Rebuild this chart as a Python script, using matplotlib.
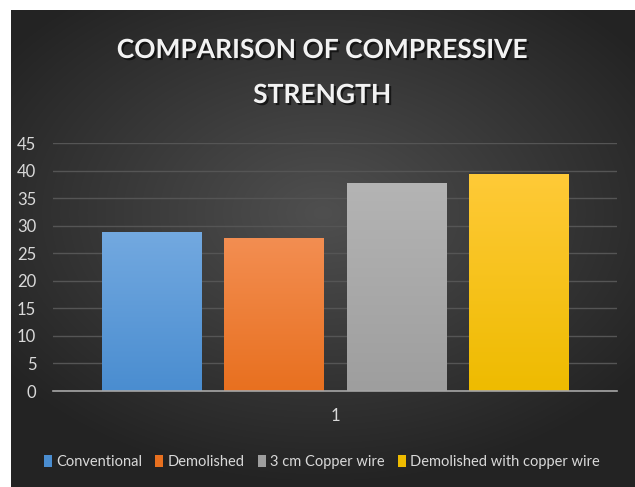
import numpy as np
import matplotlib.pyplot as plt
from matplotlib import patheffects as pe

# compressive strength per mix (single test group "1")
series = ['Conventional', 'Demolished', '3 cm Copper wire', 'Demolished with copper wire']
strength = [28.9, 27.8, 37.8, 39.4]
category = ['1']
y_ticks = [0, 5, 10, 15, 20, 25, 30, 35, 40, 45]

top_colors = ['#73a9e0', '#f38e52', '#b4b4b4', '#ffca38']
bottom_colors = ['#4a8dd0', '#e8701f', '#9e9e9e', '#eebb00']

plt.rcParams['font.family'] = ['Lato', 'DejaVu Sans']

W, H = 635, 487
fig = plt.figure(figsize=(W / 100, H / 100), dpi=100, facecolor='white')

# dark radial background panel
bg = fig.add_axes([11 / W, 0, 1 - 11 / W, 1 - 10 / H])
bg.set_axis_off()
yy, xx = np.mgrid[-1:1:300j, -1:1:400j]
r = np.sqrt((xx * 0.9) ** 2 + ((yy + 0.15) * 1.0) ** 2)
shade = np.clip(0.31 - 0.15 * r, 0.14, 0.31)
bg.imshow(np.dstack([shade] * 3), aspect='auto', extent=[0, 1, 0, 1], interpolation='bilinear')
bg.set_xlim(0, 1)
bg.set_ylim(0, 1)

ax = fig.add_axes([53 / W, 1 - 391 / H, (617 - 53) / W, (391 - 143) / H])
ax.set_facecolor('none')

step = 1.0
width = 0.81
offsets = (np.arange(len(series)) - (len(series) - 1) / 2) * step
for off, val, name, c_top, c_bot in zip(offsets, strength, series, top_colors, bottom_colors):
    bar = ax.bar(off, val, width=width, color=c_bot, label=name, zorder=3)[0]
    grad = np.linspace(0, 1, 256).reshape(-1, 1)
    t = np.array(plt.matplotlib.colors.to_rgb(c_top))
    b = np.array(plt.matplotlib.colors.to_rgb(c_bot))
    img = t + (b - t) * grad[:, :, None]
    im = ax.imshow(img, extent=[off - width / 2, off + width / 2, 0, val], aspect='auto',
                   origin='upper', zorder=3.5)
    im.set_clip_path(bar)

ax.set_xlim(-2.306, 2.306)
ax.set_ylim(0, 45)
ax.set_yticks(y_ticks)
ax.set_xticks([0])
ax.set_xticklabels(category)
ax.grid(axis='y', color='#555555', linewidth=1, zorder=0)
for s in ['top', 'right', 'left']:
    ax.spines[s].set_visible(False)
ax.spines['bottom'].set_color('#a6a6a6')
ax.spines['bottom'].set_linewidth(1.2)
ax.spines['bottom'].set_zorder(4)
ax.tick_params(axis='both', length=0, colors='#d9d9d9', labelsize=12)
ax.tick_params(axis='y', pad=12)
ax.tick_params(axis='x', pad=12)

shadow = [pe.withSimplePatchShadow(offset=(1.5, -1.5), shadow_rgbFace='black', alpha=0.6)]
fig.text(322 / W, 1 - 50 / H, 'COMPARISON OF COMPRESSIVE', ha='center', va='center',
         color='#f2f2f2', fontsize=19, fontweight='bold', path_effects=shadow)
fig.text(322 / W, 1 - 95 / H, 'STRENGTH', ha='center', va='center',
         color='#f2f2f2', fontsize=19, fontweight='bold', path_effects=shadow)

fig.legend(loc='center', bbox_to_anchor=(322 / W, 1 - 462 / H), ncol=4, frameon=False,
           fontsize=10.5, labelcolor='#d9d9d9', handlelength=0.55, handleheight=0.9,
           handletextpad=0.3, columnspacing=0.9)

fig.savefig('out.png', dpi=100, facecolor='white')
